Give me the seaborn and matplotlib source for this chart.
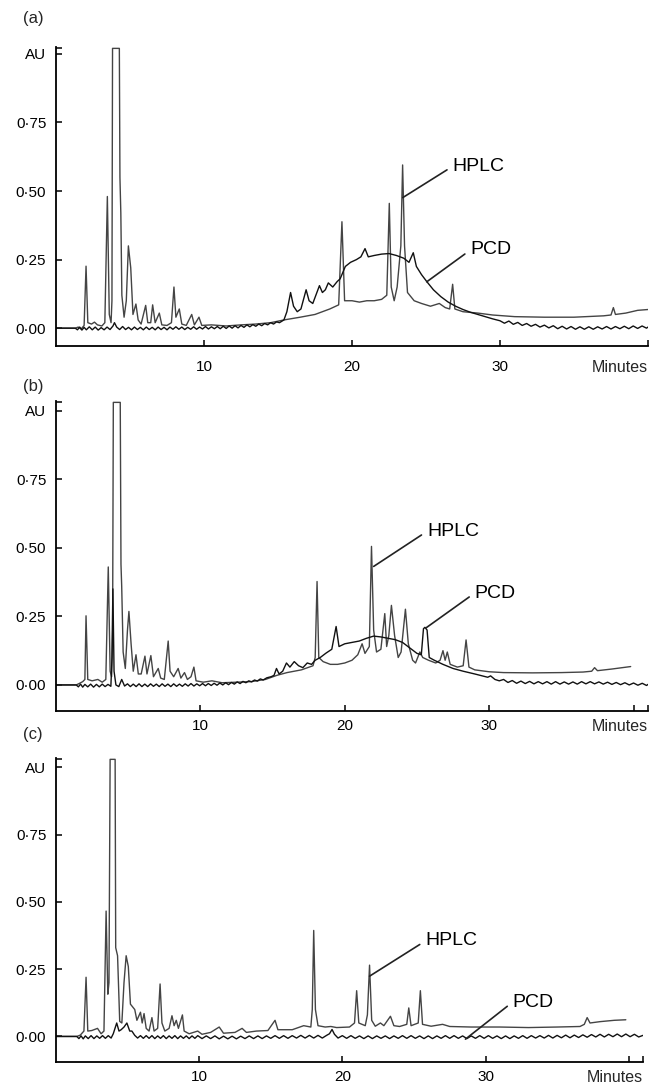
import matplotlib
matplotlib.use("Agg")
import matplotlib.pyplot as plt
import seaborn as sns
import numpy as np

# ---- data: retention time (min) / absorbance (AU) ----
A_HPLC = [
    (0, 0), (1.3, 0), (1.5, 0.004), (1.7, -0.003), (1.9, 0.01), (2.03, 0.226), (2.15, 0.02),
    (2.4, 0.015), (2.6, 0.022), (2.8, 0.012), (3.1, 0.008), (3.3, 0.02), (3.47, 0.48),
    (3.6, 0.05), (3.72, 0.02), (3.78, 0.1), (3.82, 1.02), (4.28, 1.02), (4.32, 0.55),
    (4.38, 0.42), (4.45, 0.12), (4.6, 0.04), (4.75, 0.1), (4.89, 0.30), (5.05, 0.22),
    (5.2, 0.05), (5.4, 0.088), (5.55, 0.03), (5.75, 0.015), (6.06, 0.083), (6.2, 0.02),
    (6.4, 0.02), (6.53, 0.085), (6.7, 0.02), (6.98, 0.055), (7.15, 0.012), (7.5, 0.01),
    (7.8, 0.02), (7.97, 0.15), (8.1, 0.04), (8.33, 0.07), (8.5, 0.015), (8.8, 0.01),
    (9.17, 0.05), (9.35, 0.012), (9.66, 0.04), (9.85, 0.01), (10.5, 0.012), (11.5, 0.008),
    (12.5, 0.012), (13.5, 0.015), (14.5, 0.02), (15.4, 0.03), (16.5, 0.04), (17.5, 0.05),
    (18.5, 0.07), (19.1, 0.085), (19.32, 0.388), (19.5, 0.1), (20.0, 0.1), (20.5, 0.095),
    (21.0, 0.1), (21.5, 0.1), (22.0, 0.105), (22.35, 0.12), (22.52, 0.455), (22.65, 0.15),
    (22.85, 0.1), (23.05, 0.15), (23.3, 0.3), (23.42, 0.595), (23.55, 0.3), (23.75, 0.13),
    (24.2, 0.1), (24.7, 0.09), (25.3, 0.08), (25.9, 0.09), (26.3, 0.075), (26.6, 0.07),
    (26.8, 0.16), (26.95, 0.07), (27.5, 0.06), (28.5, 0.055), (29.5, 0.048), (31, 0.042),
    (33, 0.04), (35, 0.04), (37, 0.045), (37.5, 0.048), (37.66, 0.075), (37.8, 0.05),
    (38.5, 0.055), (39.3, 0.065), (40.0, 0.068),
]
A_PCD = [
    (0, 0), (1.3, 0), (1.45, -0.006), (1.6, 0.004), (1.75, -0.007), (1.9, 0.003), (2.05, -0.006),
    (2.25, 0.005), (2.45, -0.006), (2.65, 0.004), (2.85, -0.007), (3.05, 0.002), (3.25, -0.006),
    (3.45, 0.004), (3.65, -0.005), (3.85, 0.008), (3.95, 0.02), (4.1, 0.004), (4.3, -0.005),
    (4.5, 0.006), (4.7, -0.005), (4.9, 0.003), (5.1, -0.006), (5.3, 0.004), (5.5, -0.005),
    (5.7, 0.003), (5.9, -0.006), (6.1, 0.004), (6.3, -0.005), (6.5, 0.003), (6.7, -0.006),
    (6.9, 0.004), (7.1, -0.005), (7.3, 0.003), (7.5, -0.006), (7.7, 0.004), (7.9, -0.004),
    (8.1, 0.005), (8.3, -0.004), (8.5, 0.004), (8.7, -0.005), (8.9, 0.003), (9.1, -0.004),
    (9.3, 0.005), (9.5, -0.004), (9.7, 0.004), (9.9, -0.003), (10.1, 0.006), (10.3, -0.003),
    (10.5, 0.005), (10.7, -0.002), (10.9, 0.006), (11.1, -0.002), (11.3, 0.007), (11.5, -0.001),
    (11.7, 0.008), (11.9, 0.0), (12.1, 0.009), (12.3, 0.001), (12.5, 0.01), (12.7, 0.003),
    (12.9, 0.012), (13.1, 0.005), (13.3, 0.013), (13.5, 0.007), (13.7, 0.015), (13.9, 0.009),
    (14.1, 0.017), (14.3, 0.012), (14.5, 0.02), (14.7, 0.015), (14.9, 0.023), (15.1, 0.02),
    (15.4, 0.03), (15.6, 0.06), (15.85, 0.13), (16.05, 0.08), (16.3, 0.06), (16.55, 0.07),
    (16.9, 0.14), (17.1, 0.1), (17.35, 0.09), (17.8, 0.155), (18.0, 0.13), (18.2, 0.14),
    (18.4, 0.165), (18.7, 0.15), (19.0, 0.17), (19.2, 0.18), (19.55, 0.225), (19.9, 0.24),
    (20.3, 0.25), (20.6, 0.26), (20.88, 0.29), (21.1, 0.26), (21.5, 0.265), (22.0, 0.27),
    (22.5, 0.272), (23.0, 0.265), (23.5, 0.255), (23.85, 0.24), (24.14, 0.275), (24.35, 0.225),
    (24.7, 0.195), (25.05, 0.17), (25.5, 0.14), (26.0, 0.115), (26.5, 0.095), (27.0, 0.08),
    (27.5, 0.068), (28.0, 0.058), (28.5, 0.05), (29.0, 0.042), (29.5, 0.034), (30.0, 0.027),
    (30.3, 0.018), (30.6, 0.026), (30.9, 0.014), (31.2, 0.021), (31.5, 0.01), (31.8, 0.017),
    (32.1, 0.007), (32.4, 0.014), (32.7, 0.004), (33.0, 0.011), (33.3, 0.001), (33.6, 0.009),
    (33.9, -0.002), (34.2, 0.007), (34.5, -0.003), (34.8, 0.006), (35.1, -0.004), (35.4, 0.005),
    (35.7, -0.004), (36.0, 0.005), (36.3, -0.004), (36.6, 0.005), (36.9, -0.003), (37.2, 0.006),
    (37.5, -0.003), (37.8, 0.006), (38.1, -0.002), (38.4, 0.007), (38.7, -0.002), (39.0, 0.008),
    (39.3, -0.001), (39.6, 0.008), (39.9, 0.0), (40.0, 0.004),
]

B_HPLC = [
    (0, 0), (1.4, 0), (1.6, 0.005), (1.85, 0.012), (2.0, 0.02), (2.08, 0.252), (2.2, 0.02),
    (2.5, 0.015), (2.9, 0.02), (3.2, 0.01), (3.45, 0.02), (3.62, 0.43), (3.75, 0.05),
    (3.85, 0.03), (3.92, 0.2), (3.97, 1.03), (4.45, 1.03), (4.5, 0.44), (4.55, 0.36),
    (4.65, 0.12), (4.8, 0.06), (4.95, 0.2), (5.05, 0.268), (5.2, 0.15), (5.35, 0.05),
    (5.54, 0.11), (5.7, 0.04), (5.9, 0.04), (6.16, 0.105), (6.3, 0.04), (6.57, 0.107),
    (6.75, 0.03), (7.08, 0.06), (7.25, 0.025), (7.5, 0.02), (7.77, 0.16), (7.9, 0.05),
    (8.15, 0.03), (8.46, 0.06), (8.65, 0.025), (8.9, 0.045), (9.1, 0.02), (9.35, 0.03),
    (9.55, 0.065), (9.7, 0.015), (10.2, 0.01), (10.8, 0.015), (11.5, 0.008), (12.5, 0.01),
    (13.5, 0.012), (14.5, 0.02), (15.3, 0.035), (16.0, 0.045), (17.0, 0.055), (17.8, 0.07),
    (17.95, 0.1), (18.08, 0.377), (18.2, 0.1), (18.5, 0.085), (19.0, 0.075), (19.5, 0.075),
    (20.0, 0.08), (20.5, 0.09), (20.9, 0.11), (21.2, 0.15), (21.4, 0.115), (21.7, 0.14),
    (21.85, 0.505), (22.0, 0.2), (22.2, 0.12), (22.5, 0.13), (22.77, 0.26), (22.9, 0.14),
    (23.05, 0.18), (23.23, 0.29), (23.45, 0.18), (23.7, 0.1), (23.9, 0.12), (24.2, 0.276),
    (24.4, 0.15), (24.7, 0.09), (24.9, 0.08), (25.2, 0.12), (25.4, 0.1), (25.8, 0.09),
    (26.3, 0.08), (26.6, 0.09), (26.8, 0.125), (26.95, 0.09), (27.1, 0.12), (27.3, 0.075),
    (27.8, 0.065), (28.2, 0.07), (28.4, 0.164), (28.6, 0.065), (29.0, 0.055), (30, 0.048),
    (31, 0.045), (33, 0.044), (35, 0.045), (36.5, 0.047), (37.1, 0.05), (37.3, 0.063),
    (37.5, 0.052), (38.5, 0.058), (39.8, 0.067),
]
B_PCD = [
    (0, 0), (1.4, 0), (1.55, -0.007), (1.7, 0.003), (1.85, -0.008), (2.0, 0.002), (2.2, -0.007),
    (2.4, 0.003), (2.6, -0.008), (2.8, 0.002), (3.0, -0.007), (3.2, 0.003), (3.4, -0.006),
    (3.6, 0.002), (3.8, -0.005), (3.88, 0.1), (3.94, 0.35), (4.02, 0.05), (4.15, 0.0),
    (4.35, -0.006), (4.55, 0.02), (4.75, -0.004), (4.95, 0.004), (5.15, -0.006), (5.35, 0.003),
    (5.55, -0.006), (5.75, 0.004), (5.95, -0.006), (6.15, 0.003), (6.35, -0.006), (6.55, 0.004),
    (6.75, -0.005), (6.95, 0.003), (7.15, -0.006), (7.35, 0.004), (7.55, -0.005), (7.75, 0.003),
    (7.95, -0.006), (8.15, 0.004), (8.35, -0.005), (8.55, 0.003), (8.75, -0.005), (8.95, 0.004),
    (9.15, -0.004), (9.35, 0.005), (9.55, -0.004), (9.75, 0.004), (9.95, -0.003), (10.15, 0.005),
    (10.35, -0.003), (10.55, 0.005), (10.75, -0.002), (10.95, 0.006), (11.15, -0.001),
    (11.35, 0.007), (11.55, 0.0), (11.75, 0.008), (11.95, 0.001), (12.15, 0.009), (12.35, 0.003),
    (12.55, 0.011), (12.75, 0.005), (12.95, 0.013), (13.15, 0.008), (13.35, 0.015),
    (13.55, 0.011), (13.75, 0.018), (13.95, 0.014), (14.15, 0.022), (14.35, 0.018),
    (14.6, 0.026), (14.9, 0.03), (15.1, 0.035), (15.27, 0.06), (15.45, 0.04), (15.7, 0.05),
    (15.96, 0.08), (16.2, 0.065), (16.5, 0.085), (16.8, 0.07), (17.1, 0.063), (17.4, 0.08),
    (17.7, 0.075), (17.95, 0.09), (18.3, 0.1), (18.7, 0.116), (19.1, 0.13), (19.4, 0.213),
    (19.6, 0.14), (20.0, 0.15), (20.5, 0.155), (21.0, 0.16), (21.5, 0.17), (22.0, 0.178),
    (22.5, 0.175), (23.0, 0.17), (23.5, 0.165), (24.0, 0.155), (24.5, 0.135), (25.0, 0.115),
    (25.3, 0.11), (25.45, 0.205), (25.55, 0.21), (25.7, 0.2), (25.85, 0.1), (26.2, 0.09),
    (26.8, 0.075), (27.5, 0.06), (28.2, 0.05), (29.0, 0.04), (29.6, 0.032), (29.9, 0.028),
    (30.1, 0.033), (30.4, 0.02), (30.7, 0.015), (31.0, 0.02), (31.3, 0.009), (31.6, 0.016),
    (31.9, 0.006), (32.2, 0.014), (32.5, 0.005), (32.8, 0.013), (33.1, 0.004), (33.4, 0.012),
    (33.7, 0.004), (34.0, 0.012), (34.3, 0.003), (34.6, 0.012), (34.9, 0.003), (35.2, 0.011),
    (35.5, 0.003), (35.8, 0.011), (36.1, 0.003), (36.4, 0.012), (36.7, 0.004), (37.0, 0.012),
    (37.3, 0.004), (37.6, 0.011), (37.9, 0.003), (38.2, 0.01), (38.5, 0.002), (38.8, 0.009),
    (39.1, 0.001), (39.4, 0.008), (39.7, 0.0), (40.0, 0.007), (40.3, -0.001), (40.6, 0.006),
    (40.9, -0.002), (41.0, 0.002),
]

C_HPLC = [
    (0, 0), (1.45, 0), (1.7, 0.005), (1.95, 0.02), (2.1, 0.22), (2.22, 0.02), (2.5, 0.022),
    (2.9, 0.03), (3.15, 0.01), (3.35, 0.02), (3.5, 0.466), (3.62, 0.157), (3.7, 0.2),
    (3.78, 1.03), (4.13, 1.03), (4.17, 0.33), (4.3, 0.3), (4.45, 0.056), (4.6, 0.05),
    (4.75, 0.2), (4.9, 0.30), (5.05, 0.26), (5.2, 0.12), (5.5, 0.1), (5.65, 0.06), (5.9, 0.09),
    (6.02, 0.05), (6.15, 0.085), (6.3, 0.03), (6.5, 0.02), (6.7, 0.07), (6.85, 0.02),
    (7.1, 0.03), (7.27, 0.195), (7.4, 0.05), (7.6, 0.02), (7.9, 0.03), (8.1, 0.077),
    (8.25, 0.04), (8.4, 0.06), (8.55, 0.03), (8.83, 0.08), (8.95, 0.02), (9.3, 0.01),
    (9.9, 0.02), (10.2, 0.008), (10.8, 0.015), (11.4, 0.035), (11.7, 0.012), (12.5, 0.015),
    (13.0, 0.03), (13.3, 0.015), (14.0, 0.02), (14.8, 0.022), (15.3, 0.06), (15.5, 0.025),
    (16.5, 0.025), (17.3, 0.04), (17.8, 0.035), (17.9, 0.1), (18.0, 0.394), (18.12, 0.1),
    (18.3, 0.04), (18.8, 0.035), (19.2, 0.037), (19.6, 0.033), (20.5, 0.035), (20.85, 0.05),
    (21.0, 0.17), (21.15, 0.05), (21.6, 0.04), (21.75, 0.08), (21.9, 0.265), (22.05, 0.06),
    (22.3, 0.038), (22.66, 0.05), (22.9, 0.04), (23.36, 0.075), (23.6, 0.04), (24.0, 0.037),
    (24.5, 0.045), (24.64, 0.106), (24.8, 0.04), (25.3, 0.05), (25.45, 0.17), (25.6, 0.045),
    (26.2, 0.038), (27.0, 0.045), (27.5, 0.037), (29, 0.035), (31, 0.035), (33, 0.033),
    (35, 0.035), (36.6, 0.037), (36.9, 0.045), (37.1, 0.07), (37.3, 0.05), (38, 0.055),
    (39, 0.06), (39.8, 0.062),
]
C_PCD = [
    (0, 0), (1.45, 0), (1.6, -0.008), (1.75, 0.002), (1.9, -0.009), (2.05, 0.002), (2.25, -0.008),
    (2.45, 0.003), (2.65, -0.008), (2.85, 0.002), (3.05, -0.007), (3.25, 0.003), (3.45, -0.007),
    (3.65, 0.003), (3.85, -0.006), (4.0, 0.01), (4.12, 0.03), (4.24, 0.05), (4.4, 0.02),
    (4.55, 0.025), (4.75, 0.035), (4.95, 0.05), (5.15, 0.02), (5.3, 0.02), (5.5, 0.004),
    (5.7, -0.006), (5.9, 0.003), (6.1, -0.007), (6.3, 0.003), (6.5, -0.007), (6.7, 0.003),
    (6.9, -0.008), (7.1, 0.002), (7.3, -0.007), (7.5, 0.003), (7.7, -0.008), (7.9, 0.002),
    (8.1, -0.007), (8.3, 0.003), (8.5, -0.008), (8.7, 0.002), (8.9, -0.007), (9.1, 0.002),
    (9.3, -0.008), (9.5, 0.002), (9.7, -0.007), (9.9, 0.003), (10.2, -0.008), (10.5, 0.002),
    (10.8, -0.008), (11.1, 0.002), (11.4, -0.009), (11.7, 0.001), (12.0, -0.009), (12.3, 0.001),
    (12.6, -0.009), (12.9, 0.001), (13.2, -0.008), (13.5, 0.002), (13.8, -0.008), (14.1, 0.002),
    (14.4, -0.008), (14.7, 0.002), (15.0, -0.007), (15.3, 0.003), (15.6, -0.007), (15.9, 0.003),
    (16.2, -0.007), (16.5, 0.003), (16.8, -0.006), (17.1, 0.004), (17.4, -0.006), (17.7, 0.004),
    (18.0, -0.006), (18.3, 0.004), (18.6, -0.006), (18.9, 0.004), (19.1, 0.01), (19.28, 0.026),
    (19.45, 0.008), (19.7, -0.006), (20.0, 0.003), (20.3, -0.007), (20.6, 0.003), (20.9, -0.007),
    (21.2, 0.002), (21.5, -0.008), (21.8, 0.002), (22.1, -0.008), (22.4, 0.002), (22.7, -0.007),
    (23.0, 0.002), (23.3, -0.008), (23.6, 0.002), (23.9, -0.007), (24.2, 0.003), (24.5, -0.007),
    (24.8, 0.003), (25.1, -0.007), (25.4, 0.002), (25.7, -0.008), (26.0, 0.002), (26.3, -0.008),
    (26.6, 0.002), (26.9, -0.007), (27.2, 0.003), (27.5, -0.007), (27.8, 0.003), (28.1, -0.007),
    (28.4, 0.002), (28.7, -0.008), (29.0, 0.002), (29.3, -0.007), (29.6, 0.003), (29.9, -0.007),
    (30.2, 0.003), (30.5, -0.007), (30.8, 0.002), (31.1, -0.008), (31.4, 0.002), (31.7, -0.008),
    (32.0, 0.002), (32.3, -0.007), (32.6, 0.003), (32.9, -0.007), (33.2, 0.003), (33.5, -0.006),
    (33.8, 0.003), (34.1, -0.006), (34.4, 0.004), (34.7, -0.006), (35.0, 0.004), (35.3, -0.005),
    (35.6, 0.005), (35.9, -0.005), (36.2, 0.005), (36.5, -0.004), (36.8, 0.006), (37.1, -0.003),
    (37.4, 0.007), (37.7, -0.002), (38.0, 0.008), (38.3, -0.002), (38.6, 0.008), (38.9, -0.001),
    (39.2, 0.009), (39.5, -0.001), (39.8, 0.009), (40.1, -0.001), (40.4, 0.008), (40.7, -0.002),
    (41.0, 0.004),
]

Y_TICKS = [0, 0.25, 0.5, 0.75, 1.0]
Y_TICK_LABELS = ["0·00", "0·25", "0·50", "0·75", "AU"]
X_TICKS = [10, 20, 30, 40]
X_TICK_LABELS = ["10", "20", "30", ""]
PANEL_LABELS = ["(a)", "(b)", "(c)"]

# ---- layout ----
sns.set_theme(style="ticks")
plt.rcParams["font.family"] = ["Liberation Sans", "DejaVu Sans"]

W, H = 656, 1088
fig = plt.figure(figsize=(W / 100, H / 100), dpi=100)

# box = (left, top, right, bottom) in pixels; annotations = (peak x, peak y, text x, text y)
panels = [
    dict(box=(56, 47, 648, 346), xmax=40.0, ylim=(-0.065, 1.025), pad=10, lab_y=18,
         hplc=(23.43, 0.476, 26.8, 0.59), pcd=(25.05, 0.169, 28.0, 0.285)),
    dict(box=(56, 401, 648, 711), xmax=41.0, ylim=(-0.095, 1.035), pad=6, lab_y=387,
         hplc=(22.0, 0.432, 25.7, 0.56), pcd=(25.6, 0.207, 29.0, 0.335)),
    dict(box=(56, 758, 643, 1062), xmax=41.0, ylim=(-0.095, 1.035), pad=6, lab_y=735,
         hplc=(21.9, 0.224, 25.8, 0.355), pcd=(28.6, -0.01, 31.9, 0.128)),
]
traces = [(A_HPLC, A_PCD), (B_HPLC, B_PCD), (C_HPLC, C_PCD)]

for p, (hplc, pcd), lab in zip(panels, traces, PANEL_LABELS):
    l, t, r, b = p["box"]
    ax = fig.add_axes([l / W, 1 - b / H, (r - l) / W, (b - t) / H])

    ht, hv = zip(*hplc)
    pt, pv = zip(*pcd)
    sns.lineplot(x=list(ht), y=list(hv), ax=ax, color="#444444", linewidth=1.0,
                 estimator=None, sort=False)
    sns.lineplot(x=list(pt), y=list(pv), ax=ax, color="#111111", linewidth=1.0,
                 estimator=None, sort=False)

    ax.set_xlim(0, p["xmax"])
    ax.set_ylim(*p["ylim"])
    ax.set_xlabel("")
    ax.set_ylabel("")

    for s in ["top", "right"]:
        ax.spines[s].set_visible(False)
    for s in ["left", "bottom"]:
        ax.spines[s].set_linewidth(1.3)
        ax.spines[s].set_color("black")

    ax.set_yticks(Y_TICKS)
    ax.set_yticklabels(Y_TICK_LABELS)
    ax.set_yticks([p["ylim"][1] - 0.002], minor=True)
    ax.set_xticks(X_TICKS)
    ax.set_xticklabels(X_TICK_LABELS)
    if p["xmax"] > 40:
        ax.set_xticks([p["xmax"] - 0.02], minor=True)
    ax.tick_params(axis="both", which="both", direction="in", length=4, width=1.1,
                   colors="black", labelsize=11)
    ax.tick_params(axis="y", pad=7)
    ax.tick_params(axis="x", pad=p["pad"])

    ax.annotate("Minutes", xy=(1, 0), xycoords="axes fraction",
                xytext=(0, -p["pad"]), textcoords="offset points",
                ha="right", va="top", fontsize=11.5)

    for name, key in [("HPLC", "hplc"), ("PCD", "pcd")]:
        x0, y0, x1, y1 = p[key]
        ax.annotate(name, xy=(x0, y0), xytext=(x1, y1), ha="left", va="center",
                    fontsize=14, color="black",
                    arrowprops=dict(arrowstyle="-", color="#222222", lw=1.2,
                                    shrinkA=2, shrinkB=0, relpos=(0, 0.5)))

    fig.text(23 / W, 1 - p["lab_y"] / H, lab, ha="left", va="center", fontsize=12)

fig.savefig("out.png", dpi=100)
